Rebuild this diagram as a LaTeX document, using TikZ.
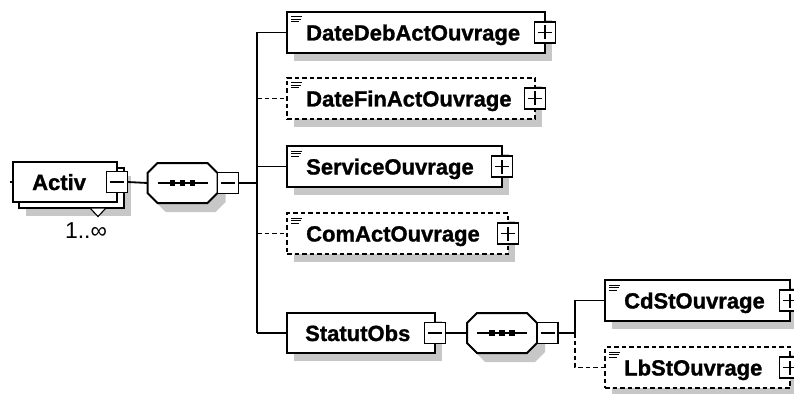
\documentclass[tikz,border=0pt]{standalone}
\usepackage{fontspec}
\setmainfont{Liberation Sans}[BoldFeatures={FakeBold=1.2}]
\usetikzlibrary{calc}
\newcommand\xsoct[3]{([xshift=#2pt+10pt,yshift=#3pt]#1.north west) -- ([xshift=#2pt-10pt,yshift=#3pt]#1.north east) -- ([xshift=#2pt,yshift=#3pt-10pt]#1.north east) -- ([xshift=#2pt,yshift=#3pt+10pt]#1.south east) -- ([xshift=#2pt-10pt,yshift=#3pt]#1.south east) -- ([xshift=#2pt+10pt,yshift=#3pt]#1.south west) -- ([xshift=#2pt,yshift=#3pt+10pt]#1.south west) -- ([xshift=#2pt,yshift=#3pt-10pt]#1.north west) -- cycle}
\newcommand\xsel[6]{%
  \fill[shd] (#3+7,#4+8) rectangle (#3+#5+7,#4+49);
  \node[#2, minimum width=#5pt] (#1) at (#3,#4) {};
  \draw[ico] (#3+4,#4+5) -- ++(11,0) (#3+4,#4+7.5) -- ++(10,0) (#3+4,#4+10) -- ++(8,0);
  \node[lbl] (#1t) at (#3+19,#4+28.5) {#6};
  \node[pm] (#1s) at (#1.east) {};
}
\newcommand\xsminus[1]{\draw[sgn] ([xshift=-7pt]#1.center) -- ([xshift=7pt]#1.center);}
\newcommand\xsplus[1]{\draw[sgn] ([xshift=-7pt]#1.center) -- ([xshift=7pt]#1.center) ([yshift=-7pt]#1.center) -- ([yshift=7pt]#1.center);}
\begin{document}
\begin{tikzpicture}[x=1pt,y=-1pt,
  bord/.style={line width=2pt},
  elem/.style={draw, line width=2pt, fill=white, minimum height=41pt, inner sep=0pt, outer sep=0pt, anchor=north west},
  optelem/.style={elem, line width=1.8pt, dash pattern=on 4.5pt off 3pt},
  pm/.style={draw, line width=1.4pt, fill=white, minimum width=21pt, minimum height=21pt, inner sep=0pt, outer sep=0pt},
  sgn/.style={line width=1.4pt},
  conn/.style={line width=1.8pt},
  optconn/.style={conn, dash pattern=on 4.5pt off 3pt},
  lbl/.style={font=\bfseries\fontsize{22}{22}\selectfont, anchor=base west, inner sep=0pt},
  shd/.style={fill=black!22},
  ico/.style={line width=1pt},
  seqbox/.style={minimum width=70pt, minimum height=40pt, inner sep=0pt, outer sep=0pt},
]
\useasboundingbox (0,0) rectangle (794,393);
% Activ
\fill[shd] (26,176) rectangle (131,216);
\node[elem, minimum width=105pt, minimum height=40pt] (actb) at (19,168) {};
\node[elem, minimum width=104pt, minimum height=40pt] (act) at (13,162) {};
\node[lbl] (actt) at (32,190) {Activ};
\node[pm] (acts) at (act.east) {};
\xsminus{acts}
\draw[line width=1.1pt, fill=white] (90,208) -- (98,216.5) -- (106,208) -- cycle;
\node[font=\fontsize{23}{23}\selectfont, anchor=base, inner sep=0pt] (mult) at (86,238) {1..∞};
\draw[conn] (10,182) -- (act.west);
% sequence 1
\node[seqbox] (q1) at (182.5,183) {};
\fill[shd] \xsoct{q1}{8}{-9};
\draw[bord, fill=white] \xsoct{q1}{0}{0};
\draw[conn] ([xshift=-25pt]q1.center) -- ([xshift=25pt]q1.center);
\foreach \d in {-10,0,10} \fill ([xshift=\d pt]q1.center) +(-2.7,-2.7) rectangle +(2.7,2.7);
\node[pm, anchor=west] (q1s) at (q1.east) {};
\xsminus{q1s}
\coordinate (j1) at (257,183);
\draw[conn] (acts.east) -- (q1.west);
\draw[conn] (q1s.east) -- (j1);
% children
\xsel{dd}{elem}{287}{12}{258}{DateDebActOuvrage}
\xsplus{dds}
\xsel{df}{optelem}{287}{78}{248}{DateFinActOuvrage}
\xsplus{dfs}
\xsel{sv}{elem}{287}{146}{215}{ServiceOuvrage}
\xsplus{svs}
\xsel{ca}{optelem}{287}{213}{221}{ComActOuvrage}
\xsplus{cas}
% StatutObs (no icon)
\fill[shd] (294,321) rectangle (442,361);
\node[elem, minimum width=148pt, minimum height=40pt] (so) at (287,313) {};
\node[lbl] (sot) at (305,341) {StatutObs};
\node[pm] (sos) at (so.east) {};
\xsminus{sos}
\draw[conn] (j1 |- dd.west) -- (j1 |- so.west);
\draw[conn] (j1 |- dd.west) -- (dd.west);
\draw[optconn] (j1 |- df.west) -- (df.west);
\draw[conn] (j1 |- sv.west) -- (sv.west);
\draw[optconn] (j1 |- ca.west) -- (ca.west);
\draw[conn] (j1 |- so.west) -- (so.west);
% sequence 2
\node[seqbox] (q2) at (502,333) {};
\fill[shd] \xsoct{q2}{8}{-9};
\draw[bord, fill=white] \xsoct{q2}{0}{0};
\draw[conn] ([xshift=-25pt]q2.center) -- ([xshift=25pt]q2.center);
\foreach \d in {-10,0,10} \fill ([xshift=\d pt]q2.center) +(-2.7,-2.7) rectangle +(2.7,2.7);
\node[pm, anchor=west] (q2s) at (q2.east) {};
\xsminus{q2s}
\coordinate (j2) at (575,333);
\draw[conn] (sos.east) -- (q2.west);
\draw[conn] (q2s.east) -- (j2);
\xsel{cd}{elem}{605}{280}{185}{CdStOuvrage}
\xsplus{cds}
\xsel{lb}{optelem}{605}{347}{185}{LbStOuvrage}
\xsplus{lbs}
\draw[conn] (j2) -- (j2 |- cd.west) -- (cd.west);
\draw[optconn] (j2) -- (j2 |- lb.west) -- (lb.west);
\end{tikzpicture}
\end{document}
